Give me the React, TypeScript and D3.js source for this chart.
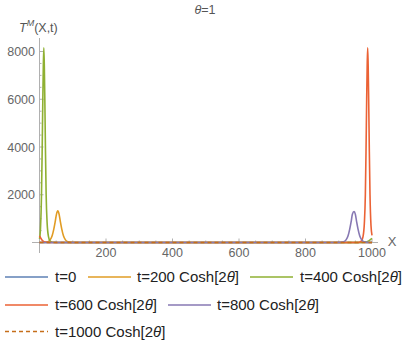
import React from "react";
import * as d3 from "d3";

// ---- data ----
const xTicks = [200, 400, 600, 800, 1000];
const yTicks = [2000, 4000, 6000, 8000];
const seriesNames = ["t=0", "t=200", "t=400", "t=600", "t=800", "t=1000"];

const t0: [number, number][] = [[0, 0], [250, 0], [500, 0], [750, 0], [1000, 0]];
const t200: [number, number][] = [
  [0, 0], [15, 5], [25, 30], [32, 110], [38, 280], [43, 560], [47, 850], [51, 1180], [55, 1330],
  [59, 1180], [63, 850], [67, 560], [72, 280], [78, 110], [85, 30], [95, 5], [110, 0], [500, 0], [1000, 0],
];
const t400: [number, number][] = [
  [0, 150], [3, 600], [6, 2000], [8, 3800], [10, 6000], [11.5, 7400], [13, 8150], [14.5, 7400],
  [16, 6000], [18, 3800], [20, 2000], [23, 800], [27, 250], [32, 60], [40, 10], [60, 0], [500, 0],
  [960, 0], [980, 20], [990, 70], [995, 120], [1000, 170],
];
const t600: [number, number][] = [
  [0, 280], [3, 200], [8, 90], [15, 25], [25, 5], [40, 0], [500, 0], [955, 0], [962, 10], [968, 60],
  [973, 250], [977, 800], [980, 2000], [982, 3800], [984, 6000], [985.5, 7400], [987, 8150],
  [988.5, 7400], [990, 6000], [992, 3800], [994, 2000], [997, 700], [1000, 300],
];
const t800: [number, number][] = [
  [0, 0], [500, 0], [890, 0], [905, 5], [915, 30], [922, 110], [928, 280], [933, 560], [937, 850],
  [941, 1180], [946, 1300], [950, 1180], [954, 850], [958, 560], [963, 280], [969, 110], [976, 30],
  [985, 5], [1000, 0],
];
const t1000: [number, number][] = [[0, 0], [250, 0], [500, 0], [750, 0], [1000, 0]];

const seriesData = [t0, t200, t400, t600, t800, t1000];
const colors = ["#5E81B5", "#E19C24", "#8FB032", "#EB6235", "#8778B3", "#C56E1A"];

const W = 406, H = 348;
const x = d3.scaleLinear().domain([0, 1000]).range([39.5, 372]);
const y = d3.scaleLinear().domain([0, 8000]).range([242.5, 51.5]);

const line = d3
  .line<[number, number]>()
  .x((d) => x(d[0]))
  .y((d) => y(d[1]))
  .curve(d3.curveMonotoneX);

const font = "'Liberation Sans', Arial, sans-serif";
const tickColor = "#b0b0b0";
const labelColor = "#666";

const legendItems = [
  { i: 0, row: 0, lx: 5, tx: 55 },
  { i: 1, row: 0, lx: 88, tx: 137 },
  { i: 2, row: 0, lx: 250, tx: 300 },
  { i: 3, row: 1, lx: 5, tx: 55 },
  { i: 4, row: 1, lx: 168, tx: 217 },
  { i: 5, row: 2, lx: 5, tx: 55 },
];
const rowY = [277, 305, 331.5];

export default function App() {
  const xMinor = d3.range(50, 1001, 50).filter((v) => v % 200 !== 0);
  const yMinor = d3.range(500, 8001, 500).filter((v) => v % 2000 !== 0);
  return (
    <svg width={W} height={H} style={{ position: "absolute", left: 0, top: 0, fontFamily: font }}>
      <rect width={W} height={H} fill="#fff" />
      {/* title */}
      <text x={205} y={14} fontSize={12.5} fill="#555" textAnchor="middle">
        <tspan fontStyle="italic">θ</tspan>=1
      </text>
      {/* y label */}
      <text x={19} y={32} fontSize={12.5} fill="#555">
        <tspan fontStyle="italic">T</tspan>
        <tspan fontStyle="italic" fontSize={9} dy={-6}>M</tspan>
        <tspan dy={6}>(X,t)</tspan>
      </text>
      {/* axes */}
      <line x1={32} x2={378} y1={y(0)} y2={y(0)} stroke={tickColor} strokeWidth={1} />
      <line x1={x(0)} x2={x(0)} y1={38} y2={253} stroke={tickColor} strokeWidth={1} />
      {xTicks.map((t) => (
        <g key={"xt" + t}>
          <line x1={x(t)} x2={x(t)} y1={y(0)} y2={y(0) - 4} stroke={tickColor} />
          <text x={x(t)} y={257} fontSize={12.5} fill={labelColor} textAnchor="middle">{t}</text>
        </g>
      ))}
      {xMinor.map((t) => (
        <line key={"xm" + t} x1={x(t)} x2={x(t)} y1={y(0)} y2={y(0) - 2} stroke={tickColor} />
      ))}
      {yTicks.map((t) => (
        <g key={"yt" + t}>
          <line x1={x(0)} x2={x(0) + 4} y1={y(t)} y2={y(t)} stroke={tickColor} />
          <text x={35} y={y(t) + 4.5} fontSize={12.5} fill={labelColor} textAnchor="end">{t}</text>
        </g>
      ))}
      {yMinor.map((t) => (
        <line key={"ym" + t} x1={x(0)} x2={x(0) + 2} y1={y(t)} y2={y(t)} stroke={tickColor} />
      ))}
      <text x={392} y={246} fontSize={13} fill={labelColor} textAnchor="middle">X</text>
      {/* series */}
      {seriesData.map((d, i) => (
        <path
          key={"s" + i}
          d={line(d) || ""}
          fill="none"
          stroke={colors[i]}
          strokeWidth={1.6}
          strokeDasharray={i === 5 ? "4,3" : undefined}
        />
      ))}
      {/* legend */}
      {legendItems.map(({ i, row, lx, tx }) => (
        <g key={"lg" + i}>
          <line
            x1={lx}
            x2={lx + 43}
            y1={rowY[row]}
            y2={rowY[row]}
            stroke={colors[i]}
            strokeWidth={1.6}
            strokeDasharray={i === 5 ? "4,3" : undefined}
          />
          <text x={tx} y={rowY[row] + 5} fontSize={15} fill="#222">
            {i === 0 ? (
              seriesNames[i]
            ) : (
              <>
                {seriesNames[i] + " Cosh[2"}
                <tspan fontStyle="italic">θ</tspan>]
              </>
            )}
          </text>
        </g>
      ))}
    </svg>
  );
}
